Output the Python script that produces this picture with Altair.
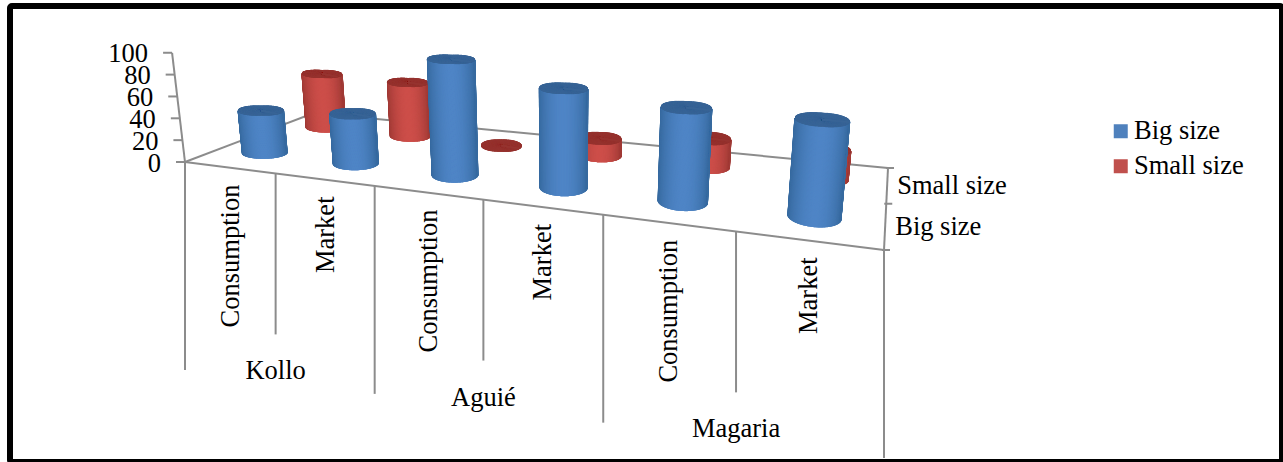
import altair as alt
import numpy as np
import pandas as pd

# Survey values per site and destination
sites = ["Kollo", "Aguié", "Magaria"]
categories = ["Consumption", "Market"] * 3
big_size = [40, 45, 100, 82, 74, 73]
small_size = [56, 54, 0, 16, 25, 25]
series_names = ["Big size", "Small size"]
value_ticks = [0, 20, 40, 60, 80, 100]

FONT = "Liberation Serif"
FONT_SIZE = 26.5
GREY = "#8c8c8c"
W, H = 1283, 462

# Perspective floor: unit square (category fraction, series fraction) to the page
corners_src = [(0, 0), (1, 0), (1, 1), (0, 1)]
corners_dst = [(185, 162), (884, 250), (888, 168), (314, 113)]
rows, rhs = [], []
for (s, t), (px, py) in zip(corners_src, corners_dst):
    rows.append([s, t, 1, 0, 0, 0, -s * px, -t * px])
    rhs.append(px)
    rows.append([0, 0, 0, s, t, 1, -s * py, -t * py])
    rhs.append(py)
hc = np.linalg.solve(np.array(rows, float), np.array(rhs, float))
VANISH = np.array([562.0, 3350.0])
UNIT_HEIGHT = 1.10  # page units per value unit at the axis corner


def project(u, v, z=0.0):
    s, t = u / 6, v / 2
    w = hc[6] * s + hc[7] * t + 1
    p = np.array([(hc[0] * s + hc[1] * t + hc[2]) / w, (hc[3] * s + hc[4] * t + hc[5]) / w])
    d = p - VANISH
    return p + d / np.linalg.norm(d) * z * UNIT_HEIGHT / w


def mix(a, b, f):
    ca = [int(a[i:i + 2], 16) for i in (1, 3, 5)]
    cb = [int(b[i:i + 2], 16) for i in (1, 3, 5)]
    return "#%02x%02x%02x" % tuple(int(round(x + (y - x) * f)) for x, y in zip(ca, cb))


RU, RV = 0.19, 0.22
PALETTE = {
    "Big size": dict(edge="#376a9f", mid="#4f85c6", cap="#386496"),
    "Small size": dict(edge="#a03a36", mid="#cd4f4a", cap="#96332f"),
}


def cylinder(u, v, value, colours):
    """Vertical slats for the wall and spokes for the lid of one cylinder."""
    segs = []
    cu, cv = u + 0.5, v + 0.5
    thetas = np.linspace(0, 2 * np.pi, 721)[:-1]
    rim = [(cu + RU * np.cos(a), cv + RV * np.sin(a)) for a in thetas]
    floor_pts = np.array([project(a, b, 0) for a, b in rim])
    top_pts = np.array([project(a, b, value) for a, b in rim])
    # flatten the tilt of the discs towards the left of the floor
    k = 0.11 * (1 - cu / 6)
    c0, c1 = project(cu, cv, 0), project(cu, cv, value)
    floor_pts[:, 1] += k * (floor_pts[:, 0] - c0[0])
    top_pts[:, 1] += k * (top_pts[:, 0] - c1[0])
    left, right = floor_pts[:, 0].min(), floor_pts[:, 0].max()
    i_l, i_r = int(floor_pts[:, 0].argmin()), int(floor_pts[:, 0].argmax())
    # walk the rim along its near side, from the left extreme to the right one
    n = len(rim)
    step = 1 if floor_pts[(i_l + n // 4) % n, 1] > floor_pts[(i_l - n // 4) % n, 1] else -1
    idx = []
    i = i_l
    while i != i_r:
        idx.append(i)
        i = (i + step) % n
    idx.append(i_r)
    if value > 0:
        for i in idx[::2]:
            f = (floor_pts[i, 0] - left) / (right - left)
            shade = np.sin(np.pi * min(max(f, 0), 1)) ** 0.8
            segs.append((*floor_pts[i], *top_pts[i], mix(colours["edge"], colours["mid"], shade), 1.3))
    for i in range(0, n, 2):
        segs.append((*c1, *top_pts[i], colours["cap"], 1.5))
    return segs


# Floor outline, hidden by the cylinders along its far and left edges
outline = []
for a, b in [((0, 0), (0, 2)), ((0, 2), (6, 2)), ((6, 2), (6, 0))]:
    outline.append((*project(*a), *project(*b), GREY, 2))
back_lines = pd.DataFrame(outline, columns=["x", "y", "x2", "y2", "c", "w"])

slats = []
for vals, name, v in ((small_size, "Small size", 1), (big_size, "Big size", 0)):
    for k, val in enumerate(vals):
        slats += cylinder(k, v, val, PALETTE[name])
slats = pd.DataFrame(slats, columns=["x", "y", "x2", "y2", "c", "w"])

# Axis rules drawn in front: front edge, multi-level separators, value and series ticks
front = [(*project(0, 0), *project(6, 0), GREY, 2)]
for k in range(7):
    p = project(k, 0)
    drop = 208 if k % 2 == 0 else 161
    front.append((p[0], p[1], p[0], p[1] + drop, GREY, 2))
for z in value_ticks:
    p = project(0, 0, z)
    front.append((p[0] - 9, p[1], p[0], p[1], GREY, 2))
top = project(0, 0, 100)
front.append((*project(0, 0), *top, GREY, 2))
for v in (0, 1, 2):
    p = project(6, v)
    front.append((p[0] - 2, p[1], p[0] + 6, p[1], GREY, 2))
front = pd.DataFrame(front, columns=["x", "y", "x2", "y2", "c", "w"])

x_s = alt.X("x:Q", scale=alt.Scale(domain=[0, W]), axis=None)
y_s = alt.Y("y:Q", scale=alt.Scale(domain=[H, 0]), axis=None)


def rules(df):
    return alt.Chart(df).mark_rule().encode(
        x=x_s, y=y_s, x2="x2:Q", y2="y2:Q",
        stroke=alt.Stroke("c:N", scale=None),
        strokeWidth=alt.StrokeWidth("w:Q", scale=None),
    )


def labels(rows_, **mark):
    return alt.Chart(pd.DataFrame(rows_, columns=["x", "y", "t"])).mark_text(
        font=FONT, fontSize=FONT_SIZE, color="#000000", **mark
    ).encode(x=x_s, y=y_s, text="t:N")


cat_rows = []
for k, c in enumerate(categories):
    p = project(k + 0.5, 0)
    cat_rows.append((p[0] + 1.5, p[1] + 17, c))
site_rows = []
for k, s in enumerate(sites):
    p = project(2 * k + 1, 0)
    site_rows.append((p[0], p[1] + 198, s))
tick_rows = []
for z in value_ticks:
    p = project(0, 0, z)
    tick_rows.append((p[0] - 24, p[1] + 1.5, str(z)))
series_rows = []
for v, name in zip((0.5, 1.5), series_names):
    p = project(6, v)
    series_rows.append((p[0] + 10, p[1] + 1.5, name))

frame = alt.Chart(pd.DataFrame([dict(x=10, y=6, x2=1282, y2=462)])).mark_rect(
    fill="white", stroke="#000000", strokeWidth=6, cornerRadius=2
).encode(x=x_s, y=y_s, x2="x2:Q", y2="y2:Q")

legend = alt.Chart(pd.DataFrame({"series": series_names})).mark_square(opacity=0).encode(
    x=alt.value(-60), y=alt.value(-60),
    color=alt.Color(
        "series:N",
        scale=alt.Scale(domain=series_names, range=["#4f81bd", "#c0504d"]),
        legend=alt.Legend(
            title=None, orient="none", legendX=1107.5, legendY=118, padding=0,
            symbolType="square", symbolSize=196, symbolOpacity=1, symbolStrokeWidth=0,
            labelFont=FONT, labelFontSize=FONT_SIZE, labelColor="#000000",
            labelOffset=0, rowPadding=8, labelLimit=200,
        ),
    ),
)

chart = alt.layer(
    frame,
    rules(back_lines),
    rules(slats),
    rules(front),
    labels(cat_rows, angle=270, align="right", baseline="middle"),
    labels(site_rows, align="center", baseline="middle"),
    labels(tick_rows, align="right", baseline="middle"),
    labels(series_rows, align="left", baseline="middle"),
    legend,
).properties(
    width=W, height=H, padding=0, autosize=alt.AutoSizeParams(type="none"),
    background="white",
).configure_view(stroke=None)

chart.save("out.html", embed_options={"renderer": "svg", "actions": False})
